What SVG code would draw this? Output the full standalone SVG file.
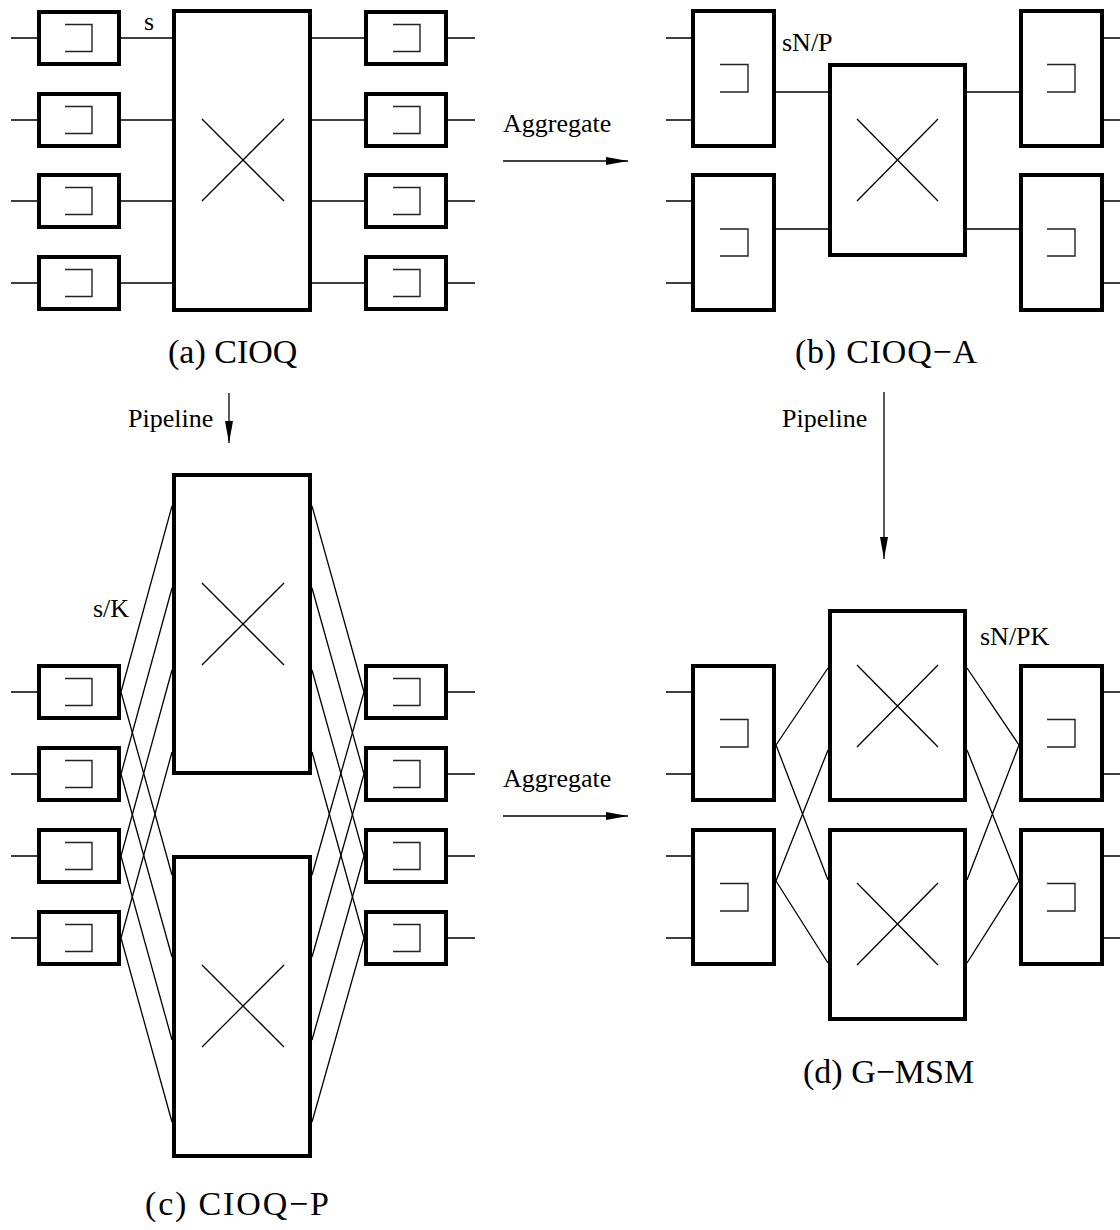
<svg xmlns="http://www.w3.org/2000/svg" width="1120" height="1230" viewBox="0 0 1120 1230">
<style>
.box{fill:#fff;stroke:#000;stroke-width:4}
.xb{fill:#fff;stroke:#000;stroke-width:4}
.thin{fill:none;stroke:#000;stroke-width:1.3}
.q{fill:none;stroke:#222;stroke-width:1.4}
.lbl{font-family:"Liberation Serif","Times New Roman",serif;font-size:26px;fill:#000}
.cap{font-family:"Liberation Serif","Times New Roman",serif;font-size:34px;fill:#000}
</style>
<defs>
<marker id="ah" markerUnits="userSpaceOnUse" markerWidth="22" markerHeight="8" refX="22" refY="4" orient="auto">
<path d="M0,0 L22,4 L0,8 z" fill="#000"/>
</marker>
</defs>
<rect width="1120" height="1230" fill="#fff"/>

<g id="connectors" class="thin">
<!-- (a) -->
<path d="M11,38H37 M11,120H37 M11,201H37 M11,283H37"/>
<path d="M121,38H172 M121,120H172 M121,201H172 M121,283H172"/>
<path d="M312,38H364 M312,120H364 M312,201H364 M312,283H364"/>
<path d="M448,38H475 M448,120H475 M448,201H475 M448,283H475"/>
<!-- (b) -->
<path d="M666,38H691 M666,120H691 M666,201H691 M666,283H691"/>
<path d="M776,92H828 M776,229H828 M967,92H1019 M967,229H1019"/>
<path d="M1104,38H1120 M1104,120H1120 M1104,201H1120 M1104,283H1120"/>
<!-- (c) -->
<path d="M11,692H37 M11,774H37 M11,856H37 M11,938H37"/>
<path d="M448,692H475 M448,774H475 M448,856H475 M448,938H475"/>
<path d="M121,692L172,506 M121,774L172,588 M121,856L172,670 M121,938L172,752"/>
<path d="M121,692L172,875 M121,774L172,957 M121,856L172,1040 M121,938L172,1122"/>
<path d="M312,506L364,692 M312,588L364,774 M312,670L364,856 M312,752L364,938"/>
<path d="M312,875L364,692 M312,957L364,774 M312,1040L364,856 M312,1122L364,938"/>
<!-- (d) -->
<path d="M666,692H691 M666,774H691 M666,856H691 M666,938H691"/>
<path d="M1104,692H1120 M1104,774H1120 M1104,856H1120 M1104,938H1120"/>
<path d="M776,745L828,668 M776,745L828,880 M776,881L828,750 M776,881L828,963"/>
<path d="M967,668L1019,745 M967,880L1019,745 M967,750L1019,881 M967,963L1019,881"/>
<!-- arrows -->
<path d="M503,161H628" marker-end="url(#ah)"/>
<path d="M503,816H628" marker-end="url(#ah)"/>
<path d="M229,393V443" marker-end="url(#ah)"/>
<path d="M884,392V559" marker-end="url(#ah)"/>
</g>

<!-- (a) CIOQ -->
<g id="a-in1"><rect class="box" x="39" y="12" width="80" height="52"/><path class="q" d="M65,24.5H92V51.5H65"/></g>
<g id="a-in2"><rect class="box" x="39" y="94" width="80" height="52"/><path class="q" d="M65,106.5H92V133.5H65"/></g>
<g id="a-in3"><rect class="box" x="39" y="175" width="80" height="52"/><path class="q" d="M65,187.5H92V214.5H65"/></g>
<g id="a-in4"><rect class="box" x="39" y="257" width="80" height="52"/><path class="q" d="M65,269.5H92V296.5H65"/></g>
<g id="a-xbar"><rect class="xb" x="174" y="11" width="136" height="299"/><path class="thin" d="M202,119L284,201M284,119L202,201"/></g>
<g id="a-out1"><rect class="box" x="366" y="12" width="80" height="52"/><path class="q" d="M393,24.5H420V51.5H393"/></g>
<g id="a-out2"><rect class="box" x="366" y="94" width="80" height="52"/><path class="q" d="M393,106.5H420V133.5H393"/></g>
<g id="a-out3"><rect class="box" x="366" y="175" width="80" height="52"/><path class="q" d="M393,187.5H420V214.5H393"/></g>
<g id="a-out4"><rect class="box" x="366" y="257" width="80" height="52"/><path class="q" d="M393,269.5H420V296.5H393"/></g>

<!-- (b) CIOQ-A -->
<g id="b-in1"><rect class="box" x="693" y="11" width="81" height="135"/><path class="q" d="M720,64.5H748V92H720"/></g>
<g id="b-in2"><rect class="box" x="693" y="175" width="81" height="135"/><path class="q" d="M720,229H748V256H720"/></g>
<g id="b-xbar"><rect class="xb" x="830" y="65" width="135" height="190"/><path class="thin" d="M857,119L938,201M938,119L857,201"/></g>
<g id="b-out1"><rect class="box" x="1021" y="11" width="81" height="135"/><path class="q" d="M1047,64.5H1075V92H1047"/></g>
<g id="b-out2"><rect class="box" x="1021" y="175" width="81" height="135"/><path class="q" d="M1047,229H1075V256H1047"/></g>

<!-- (c) CIOQ-P -->
<g id="c-in1"><rect class="box" x="39" y="666" width="80" height="52"/><path class="q" d="M65,678.5H92V705.5H65"/></g>
<g id="c-in2"><rect class="box" x="39" y="748" width="80" height="52"/><path class="q" d="M65,760.5H92V787.5H65"/></g>
<g id="c-in3"><rect class="box" x="39" y="830" width="80" height="52"/><path class="q" d="M65,842.5H92V869.5H65"/></g>
<g id="c-in4"><rect class="box" x="39" y="912" width="80" height="52"/><path class="q" d="M65,924.5H92V951.5H65"/></g>
<g id="c-xbar1"><rect class="xb" x="174" y="475" width="136" height="298"/><path class="thin" d="M202,583L284,665M284,583L202,665"/></g>
<g id="c-xbar2"><rect class="xb" x="174" y="857" width="136" height="299"/><path class="thin" d="M202,965L284,1047M284,965L202,1047"/></g>
<g id="c-out1"><rect class="box" x="366" y="666" width="80" height="52"/><path class="q" d="M393,678.5H420V705.5H393"/></g>
<g id="c-out2"><rect class="box" x="366" y="748" width="80" height="52"/><path class="q" d="M393,760.5H420V787.5H393"/></g>
<g id="c-out3"><rect class="box" x="366" y="830" width="80" height="52"/><path class="q" d="M393,842.5H420V869.5H393"/></g>
<g id="c-out4"><rect class="box" x="366" y="912" width="80" height="52"/><path class="q" d="M393,924.5H420V951.5H393"/></g>

<!-- (d) G-MSM -->
<g id="d-in1"><rect class="box" x="693" y="666" width="81" height="134"/><path class="q" d="M720,719.5H748V747H720"/></g>
<g id="d-in2"><rect class="box" x="693" y="830" width="81" height="134"/><path class="q" d="M720,883.5H748V911H720"/></g>
<g id="d-xbar1"><rect class="xb" x="830" y="611" width="135" height="189"/><path class="thin" d="M857,665L938,747M938,665L857,747"/></g>
<g id="d-xbar2"><rect class="xb" x="830" y="830" width="135" height="189"/><path class="thin" d="M857,883L938,965M938,883L857,965"/></g>
<g id="d-out1"><rect class="box" x="1021" y="666" width="81" height="134"/><path class="q" d="M1047,719.5H1075V747H1047"/></g>
<g id="d-out2"><rect class="box" x="1021" y="830" width="81" height="134"/><path class="q" d="M1047,883.5H1075V911H1047"/></g>

<g id="labels">
<text class="lbl" x="144" y="30">s</text>
<text class="lbl" x="782" y="51">sN/P</text>
<text class="lbl" x="93" y="617">s/K</text>
<text class="lbl" x="980" y="645">sN/PK</text>
<text class="lbl" x="503" y="132">Aggregate</text>
<text class="lbl" x="503" y="787">Aggregate</text>
<text class="lbl" x="128" y="427">Pipeline</text>
<text class="lbl" x="782" y="427">Pipeline</text>
<text class="cap" x="168" y="363">(a) CIOQ</text>
<text class="cap" x="795" y="363" textLength="182" lengthAdjust="spacing">(b) CIOQ−A</text>
<text class="cap" x="145" y="1215" textLength="184" lengthAdjust="spacing">(c) CIOQ−P</text>
<text class="cap" x="803" y="1083">(d) G−MSM</text>
</g>
</svg>
